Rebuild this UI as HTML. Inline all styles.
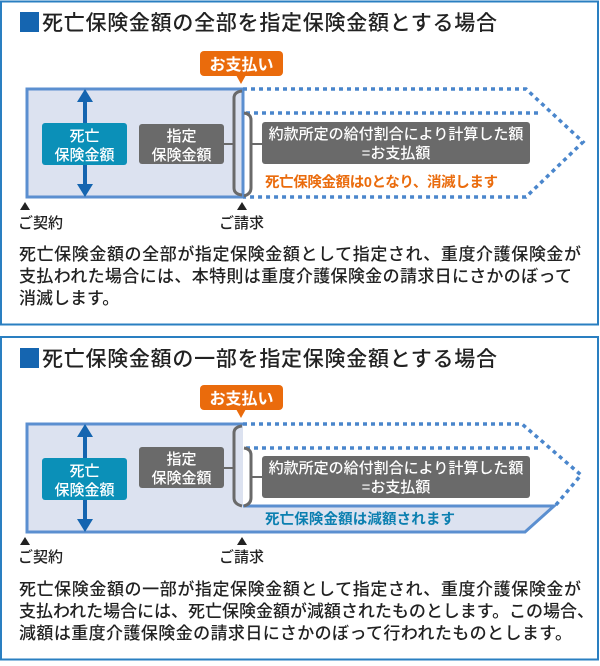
<!DOCTYPE html>
<html><head><meta charset="utf-8"><style>
html,body{margin:0;padding:0;background:#fff}
svg text{font-family:"Liberation Sans","Noto Sans CJK JP",sans-serif}
.b{font-weight:bold}
.m{font-weight:500}
</style></head><body>
<svg width="600" height="661" viewBox="0 0 600 661" xmlns="http://www.w3.org/2000/svg">
<defs>
<g id="tri"><path d="M-5,0 L5,0 L0,-8 Z" fill="#222"/></g>
</defs>
<!-- Panel 1 -->
<rect x="1" y="1.5" width="597" height="323" fill="#fff" stroke="#2a7fc1" stroke-width="2"/>
<rect x="20" y="12" width="19" height="20" fill="#1565b0"/>
<text class="m" x="42" y="30" font-size="21" fill="#222" textLength="455">死亡保険金額の全部を指定保険金額とする場合</text>
<rect x="200" y="51" width="83" height="25" rx="4" fill="#ea6b0c"/>
<path d="M236,75 L246,75 L241,84 Z" fill="#ea6b0c"/>
<text class="b" x="241.5" y="70" font-size="16" fill="#fff" text-anchor="middle">お支払い</text>
<rect x="27" y="89" width="216" height="108" fill="#dce2f0" stroke="#5b8fd0" stroke-width="3"/>
<path d="M243,89 L526,89 L583,142 L526,197 L243,197" fill="none" stroke="#4a86cc" stroke-width="3.5" stroke-dasharray="4,4"/>
<path d="M246,113 L540,113" fill="none" stroke="#4a86cc" stroke-width="3.5" stroke-dasharray="4,4"/>
<line x1="85" y1="100" x2="85" y2="186" stroke="#1565b0" stroke-width="4"/>
<path d="M77,102 L85,89 L93,102 Z M77,184 L85,197 L93,184 Z" fill="#1565b0"/>
<rect x="42" y="123" width="85" height="42" rx="3" fill="#0b90b8"/>
<text class="m" x="84.5" y="141" font-size="15" fill="#fff" text-anchor="middle">死亡</text>
<text class="m" x="84.5" y="160" font-size="15" fill="#fff" text-anchor="middle">保険金額</text>
<rect x="139" y="124" width="85" height="40" rx="3" fill="#6a6a6a"/>
<text class="m" x="181.5" y="141" font-size="15" fill="#fff" text-anchor="middle">指定</text>
<text class="m" x="181.5" y="160" font-size="15" fill="#fff" text-anchor="middle">保険金額</text>
<line x1="224" y1="144" x2="233" y2="144" stroke="#6a6a6a" stroke-width="2"/>
<path d="M242,91 Q234,92 234,98 L234,188 Q234,194 242,195" fill="none" stroke="#6a6a6a" stroke-width="3"/>
<path d="M244,113 Q251,114 251,120 L251,188 Q251,194 244,196" fill="none" stroke="#6a6a6a" stroke-width="3"/>
<line x1="252" y1="144" x2="262" y2="144" stroke="#6a6a6a" stroke-width="2"/>
<rect x="262" y="122" width="268" height="42" rx="3" fill="#6a6a6a"/>
<text class="m" x="396" y="139" font-size="15" fill="#fff" text-anchor="middle">約款所定の給付割合により計算した額</text>
<text class="m" x="396" y="158" font-size="15" fill="#fff" text-anchor="middle">=お支払額</text>
<text class="b" x="265" y="187" font-size="14.5" fill="#ea6b0c" textLength="233">死亡保険金額は0となり、消滅します</text>
<use href="#tri" x="25" y="210"/>
<text class="m" x="18" y="228" font-size="15" fill="#222">ご契約</text>
<use href="#tri" x="242" y="210"/>
<text class="m" x="219" y="228" font-size="15" fill="#222">ご請求</text>
<text class="m" x="19" y="260" font-size="17" fill="#222" textLength="562">死亡保険金額の全部が指定保険金額として指定され、重度介護保険金が</text>
<text class="m" x="19" y="282" font-size="17" fill="#222" textLength="553">支払われた場合には、本特則は重度介護保険金の請求日にさかのぼって</text>
<text class="m" x="19" y="304" font-size="17" fill="#222">消滅します。</text>

<!-- Panel 2 -->
<rect x="1" y="337" width="597" height="322.5" fill="#fff" stroke="#2a7fc1" stroke-width="2"/>
<rect x="20" y="348" width="19" height="20" fill="#1565b0"/>
<text class="m" x="42" y="366" font-size="21" fill="#222" textLength="455">死亡保険金額の一部を指定保険金額とする場合</text>
<rect x="200" y="385" width="83" height="25" rx="4" fill="#ea6b0c"/>
<path d="M236,409 L246,409 L241,418 Z" fill="#ea6b0c"/>
<text class="b" x="241.5" y="404" font-size="16" fill="#fff" text-anchor="middle">お支払い</text>
<path d="M243,424 L27,424 L27,532 L525,532 L554,506 L243,506" fill="#dce2f0" stroke="#5b8fd0" stroke-width="3"/>
<path d="M243,424 L522,424 L581,475 L555,506" fill="none" stroke="#4a86cc" stroke-width="3.5" stroke-dasharray="4,4"/>
<path d="M246,448 L540,448" fill="none" stroke="#4a86cc" stroke-width="3.5" stroke-dasharray="4,4"/>
<line x1="85" y1="435" x2="85" y2="521" stroke="#1565b0" stroke-width="4"/>
<path d="M77,437 L85,424 L93,437 Z M77,519 L85,532 L93,519 Z" fill="#1565b0"/>
<rect x="42" y="458" width="85" height="42" rx="3" fill="#0b90b8"/>
<text class="m" x="84.5" y="476" font-size="15" fill="#fff" text-anchor="middle">死亡</text>
<text class="m" x="84.5" y="495" font-size="15" fill="#fff" text-anchor="middle">保険金額</text>
<rect x="139" y="447" width="85" height="41" rx="3" fill="#6a6a6a"/>
<text class="m" x="181.5" y="464" font-size="15" fill="#fff" text-anchor="middle">指定</text>
<text class="m" x="181.5" y="483" font-size="15" fill="#fff" text-anchor="middle">保険金額</text>
<line x1="224" y1="468" x2="233" y2="468" stroke="#6a6a6a" stroke-width="2"/>
<path d="M242,426 Q234,427 234,433 L234,498 Q234,504 242,506" fill="none" stroke="#6a6a6a" stroke-width="3"/>
<path d="M244,448 Q251,449 251,455 L251,498 Q251,504 244,506" fill="none" stroke="#6a6a6a" stroke-width="3"/>
<line x1="252" y1="477" x2="262" y2="477" stroke="#6a6a6a" stroke-width="2"/>
<rect x="262" y="456" width="268" height="42" rx="3" fill="#6a6a6a"/>
<text class="m" x="396" y="473" font-size="15" fill="#fff" text-anchor="middle">約款所定の給付割合により計算した額</text>
<text class="m" x="396" y="492" font-size="15" fill="#fff" text-anchor="middle">=お支払額</text>
<text class="b" x="265" y="524" font-size="14.5" fill="#0b7fb0" textLength="190">死亡保険金額は減額されます</text>
<use href="#tri" x="25" y="545"/>
<text class="m" x="18" y="562" font-size="15" fill="#222">ご契約</text>
<use href="#tri" x="242" y="545"/>
<text class="m" x="219" y="562" font-size="15" fill="#222">ご請求</text>
<text class="m" x="19" y="595" font-size="17" fill="#222" textLength="562">死亡保険金額の一部が指定保険金額として指定され、重度介護保険金が</text>
<text class="m" x="19" y="617" font-size="17" fill="#222" textLength="575">支払われた場合には、死亡保険金額が減額されたものとします。この場合、</text>
<text class="m" x="19" y="639" font-size="17" fill="#222" textLength="553">減額は重度介護保険金の請求日にさかのぼって行われたものとします。</text>
</svg>
</body></html>
